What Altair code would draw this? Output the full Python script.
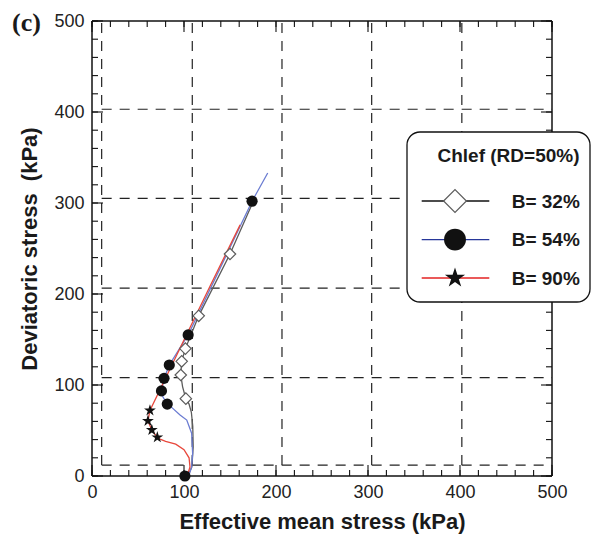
import altair as alt
import pandas as pd

# ---------------- data ----------------
series = ["B= 32%", "B= 54%", "B= 90%"]

b32_p = [101, 106, 108.5, 110, 109.5, 108, 105.5, 102, 98.5, 96.5, 97.5, 101.5, 116, 150, 175]
b32_q = [0, 4, 10, 32, 55, 70, 79, 85, 98, 111, 126, 140, 176, 244, 301]
b32_mp = [102, 96.5, 97.5, 101.5, 116, 150]
b32_mq = [85, 111, 126, 140, 176, 244]

b54_p = [101, 106, 108.3, 109.4, 108.3, 103, 95.7, 86.6, 81.8, 77, 75.5, 78.3, 84, 104.5, 141, 174, 191]
b54_q = [0, 3, 10, 25, 47, 61.5, 67, 75.4, 79, 87, 93.5, 107.3, 122, 155, 232, 302, 333]
b54_mp = [101, 81.8, 75.5, 78.3, 84, 104.5, 174]
b54_mq = [0, 79, 93.5, 107.3, 122, 155, 302]

b90_p = [101, 105, 106.5, 105.5, 100, 91, 80, 74, 71, 65, 60.8, 63, 95, 128, 161]
b90_q = [0, 5, 10, 20, 29, 35, 38, 40.5, 42.5, 50.5, 60.5, 72, 139, 208, 276]
b90_mp = [71, 65, 60.8, 63]
b90_mq = [42.5, 50.5, 60.5, 72]

grid_x = [10.5, 109, 206.5, 304, 402]
grid_y = [12, 108, 206.5, 305, 403]
axis_ticks = [0, 100, 200, 300, 400, 500]
minor_ticks = list(range(0, 501, 20))

legend_title = "Chlef (RD=50%)"
panel_label = "(c)"
x_title = "Effective mean stress (kPa)"
y_title = "Deviatoric stress\u00a0 (kPa)"

# ---------------- tables ----------------
curves = [(b32_p, b32_q), (b54_p, b54_q), (b90_p, b90_q)]
marks = [(b32_mp, b32_mq), (b54_mp, b54_mq), (b90_mp, b90_mq)]
line_rows, mark_rows = [], []
for s, (ps, qs) in zip(series, curves):
    for i, (p, q) in enumerate(zip(ps, qs)):
        line_rows.append({"s": s, "i": i, "p": p, "q": q})
for s, (ps, qs) in zip(series, marks):
    for p, q in zip(ps, qs):
        mark_rows.append({"s": s, "p": p, "q": q})
lines_df = pd.DataFrame(line_rows)
marks_df = pd.DataFrame(mark_rows)

W, H = 460, 455
FONT = "Liberation Sans"
INK = "#111111"
line_colors = ["#5c5c5c", "#6b7cd2", "#e8483c"]
legend_line_colors = ["#111111", "#27379a", "#e32222"]
STAR = "M0,-1L0.225,-0.309L0.951,-0.309L0.363,0.118L0.588,0.809L0,0.382L-0.588,0.809L-0.363,0.118L-0.951,-0.309L-0.225,-0.309Z"

xs = alt.Scale(domain=[0, 500], nice=False, zero=False)
ys = alt.Scale(domain=[0, 500], nice=False, zero=False)

x_axis = alt.Axis(values=axis_ticks, ticks=False, domain=False, grid=False,
                  labelFont=FONT, labelFontSize=18, labelColor="#222222",
                  labelPadding=7, labelFlush=False,
                  titleFont=FONT, titleFontSize=22, titleFontWeight="bold",
                  titleColor="#1a1a1a", titlePadding=10)
y_axis = alt.Axis(values=axis_ticks, ticks=False, domain=False, grid=False,
                  labelFont=FONT, labelFontSize=18, labelColor="#222222",
                  labelPadding=8, labelFlush=False,
                  titleFont=FONT, titleFontSize=22, titleFontWeight="bold",
                  titleColor="#1a1a1a", titlePadding=12)

X = alt.X("p:Q", scale=xs, axis=x_axis, title=x_title)
Y = alt.Y("q:Q", scale=ys, axis=y_axis, title=y_title)

one = pd.DataFrame({"a": [0]})

# dashed grid
gv = pd.DataFrame({"p": grid_x, "q": [grid_y[0]] * len(grid_x), "q2": [500] * len(grid_x)})
gh = pd.DataFrame({"q": grid_y, "p": [grid_x[0]] * len(grid_y), "p2": [500] * len(grid_y)})
grid_v = alt.Chart(gv).mark_rule(color="#222222", strokeWidth=1.2, strokeDash=[10, 8]).encode(
    x=X, y=Y, y2="q2:Q")
grid_h = alt.Chart(gh).mark_rule(color="#222222", strokeWidth=1.2, strokeDash=[10, 8]).encode(
    y=Y, x=X, x2="p2:Q")

# frame
frame = [
    alt.Chart(one).mark_rule(color=INK, strokeWidth=1.5).encode(x=alt.value(0), x2=alt.value(W), y=alt.value(H)),
    alt.Chart(one).mark_rule(color=INK, strokeWidth=1.5).encode(x=alt.value(0), x2=alt.value(W), y=alt.value(0)),
    alt.Chart(one).mark_rule(color=INK, strokeWidth=1.5).encode(x=alt.value(0), y=alt.value(0), y2=alt.value(H)),
    alt.Chart(one).mark_rule(color=INK, strokeWidth=1.5).encode(x=alt.value(W), y=alt.value(0), y2=alt.value(H)),
]


def tick_layers(vals, length):
    d = pd.DataFrame({"p": vals, "q": vals})
    base = alt.Chart(d).mark_rule(color=INK, strokeWidth=1.1)
    return [
        base.encode(x=X, y=alt.value(H), y2=alt.value(H - length)),
        base.encode(x=X, y=alt.value(0), y2=alt.value(length)),
        base.encode(y=Y, x=alt.value(0), x2=alt.value(length)),
        base.encode(y=Y, x=alt.value(W), x2=alt.value(W - length)),
    ]


ticks = tick_layers(minor_ticks, 6) + tick_layers(axis_ticks, 11)

# curves
lines = alt.Chart(lines_df).mark_line(strokeWidth=1.3).encode(
    x=X, y=Y,
    color=alt.Color("s:N", scale=alt.Scale(domain=series, range=line_colors), legend=None),
    order="i:Q",
)

# markers
def mk(s):
    return alt.Chart(marks_df).transform_filter(alt.datum.s == s)

m32 = mk(series[0]).mark_point(shape="diamond", size=130, filled=True, fill="white",
                               stroke="#5c5c5c", strokeWidth=1.2, opacity=1).encode(x=X, y=Y)
m54 = mk(series[1]).mark_point(shape="circle", size=125, filled=True, color="#111111", opacity=1).encode(x=X, y=Y)
m90 = mk(series[2]).mark_point(shape=STAR, size=155, filled=True, color="#111111", opacity=1).encode(x=X, y=Y)

# legend (drawn by hand)
legend = [
    alt.Chart(one).mark_rect(cornerRadius=13, fill="white", stroke=INK, strokeWidth=1.3).encode(
        x=alt.value(315), x2=alt.value(498), y=alt.value(111), y2=alt.value(281)),
    alt.Chart(pd.DataFrame({"t": [legend_title]})).mark_text(
        font=FONT, fontSize=19, fontWeight="bold", color="#1a1a1a", align="center", baseline="alphabetic"
    ).encode(text="t:N", x=alt.value(416.5), y=alt.value(141)),
]
row_y = [180, 218.6, 257]
legend_shapes = [
    dict(shape="diamond", size=520, filled=True, fill="white", stroke="#5c5c5c", strokeWidth=1.2, opacity=1),
    dict(shape="circle", size=480, filled=True, color="#111111", opacity=1),
    dict(shape=STAR, size=450, filled=True, color="#111111", opacity=1),
]
for lab, yc, lc, shp in zip(series, row_y, legend_line_colors, legend_shapes):
    legend.append(alt.Chart(one).mark_rule(color=lc, strokeWidth=1.3).encode(
        x=alt.value(329.7), x2=alt.value(397.3), y=alt.value(yc)))
    legend.append(alt.Chart(one).mark_point(**shp).encode(x=alt.value(363), y=alt.value(yc)))
    legend.append(alt.Chart(pd.DataFrame({"t": [lab]})).mark_text(
        font=FONT, fontSize=19, fontWeight="bold", color="#1a1a1a", align="left", baseline="alphabetic"
    ).encode(text="t:N", x=alt.value(419.7), y=alt.value(yc + 6.8)))

label_c = alt.Chart(pd.DataFrame({"t": [panel_label]})).mark_text(
    font="Liberation Serif", fontSize=26, fontWeight="bold", color="#1a1a1a", align="left", baseline="alphabetic"
).encode(text="t:N", x=alt.value(-80), y=alt.value(9.5))

chart = alt.layer(
    grid_v, grid_h, *frame, *ticks, lines, m32, m54, m90, *legend, label_c
).properties(
    width=W, height=H,
    autosize=alt.AutoSizeParams(type="none"),
    padding={"left": 84, "top": 13, "right": 40, "bottom": 60},
).configure_view(strokeWidth=0)

chart.save("out.html", embed_options={"renderer": "svg", "actions": False})
